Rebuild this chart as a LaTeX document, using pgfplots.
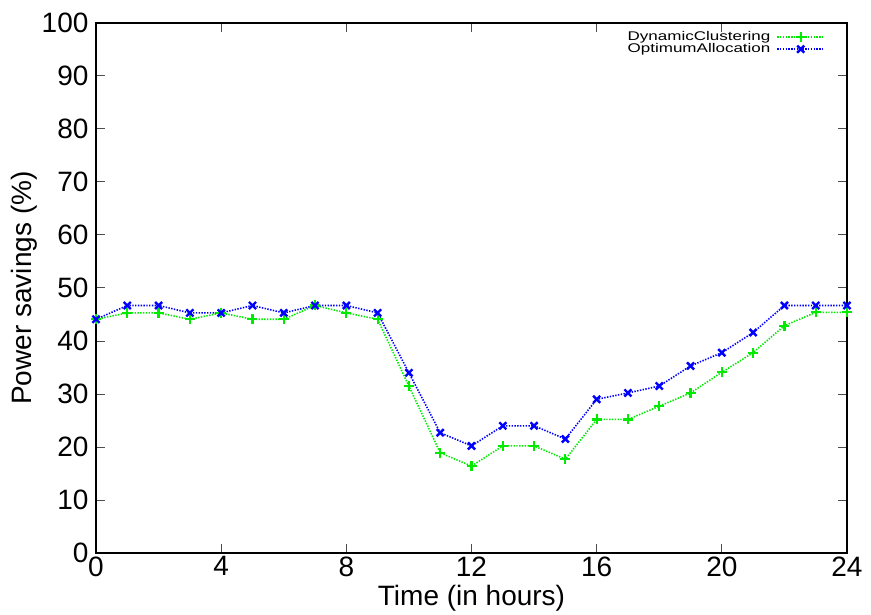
\documentclass[border=0pt]{standalone}
\usepackage{fontspec}
\setmainfont{Liberation Sans}
\newfontfamily\legfont[FakeStretch=1.35]{Liberation Sans}
\usepackage{pgfplots}
\usepackage{pgfplotstable}
\pgfplotsset{compat=1.18}

\definecolor{dcgreen}{RGB}{0,235,0}
\definecolor{oablue}{RGB}{0,0,255}

% hour  dynamic  optimum
\pgfplotstableread{
t  dc    oa
0  44.1  44.1
1  45.3  46.7
2  45.3  46.7
3  44.1  45.3
4  45.3  45.3
5  44.1  46.7
6  44.1  45.3
7  46.7  46.7
8  45.3  46.7
9  44.1  45.3
10 31.5  34.0
11 18.9  22.7
12 16.4  20.2
13 20.2  24.0
14 20.2  24.0
15 17.7  21.5
16 25.2  29.0
17 25.2  30.2
18 27.7  31.5
19 30.2  35.3
20 34.1  37.8
21 37.8  41.6
22 42.9  46.7
23 45.4  46.7
24 45.4  46.7
}\savings

\begin{document}
\begin{tikzpicture}
\begin{axis}[
  scale only axis,
  width=751pt, height=530pt,
  xmin=0, xmax=24, ymin=0, ymax=100,
  xtick={0,4,...,24}, ytick={0,10,...,100},
  tick align=inside,
  major tick length=9pt,
  tick style={black!70, line width=1pt},
  axis line style={black, line width=1.3pt},
  /pgf/number format/assume math mode=true,
  ticklabel style={font=\fontsize{28}{28}\selectfont},
  xticklabel style={yshift=0pt},
  yticklabel style={xshift=-4pt},
  label style={font=\fontsize{28}{28}\selectfont},
  xlabel={Time (in hours)},
  ylabel={Power savings (\%)},
  xlabel style={yshift=-2pt},
  ylabel style={yshift=-2pt},
  legend plot pos=right,
  legend cell align=right,
  legend style={draw=none, fill=none, inner sep=0pt,
    at={(rel axis cs:0.971,0.985)}, anchor=north east,
    font=\legfont\fontsize{12.6}{12.6}\selectfont,
    row sep=0pt, column sep=6pt,
    nodes={inner sep=0pt, text height=9pt, text depth=3pt}},
  legend image code/.code={
    \draw[mark repeat=2,mark phase=2] plot coordinates {(0pt,0pt) (23.5pt,0pt) (47pt,0pt)};},
  clip=false,
]
\coordinate (o) at (rel axis cs:0,0);
\addplot[dcgreen, line width=1.6pt, dash pattern=on 1.4pt off 1.4pt,
  mark=+, mark size=5pt, mark options={solid, line width=2.2pt}]
  table[x=t, y=dc] {\savings};
\addlegendentry{DynamicClustering}
\addplot[oablue, line width=1.6pt, dash pattern=on 1.4pt off 1.4pt,
  mark=x, mark size=5pt, mark options={solid, line width=2.4pt}]
  table[x=t, y=oa] {\savings};
\addlegendentry{OptimumAllocation}
\end{axis}
\path ([shift={(-96pt,-61pt)}]o) rectangle ++(871pt,614pt);
\end{tikzpicture}
\end{document}
